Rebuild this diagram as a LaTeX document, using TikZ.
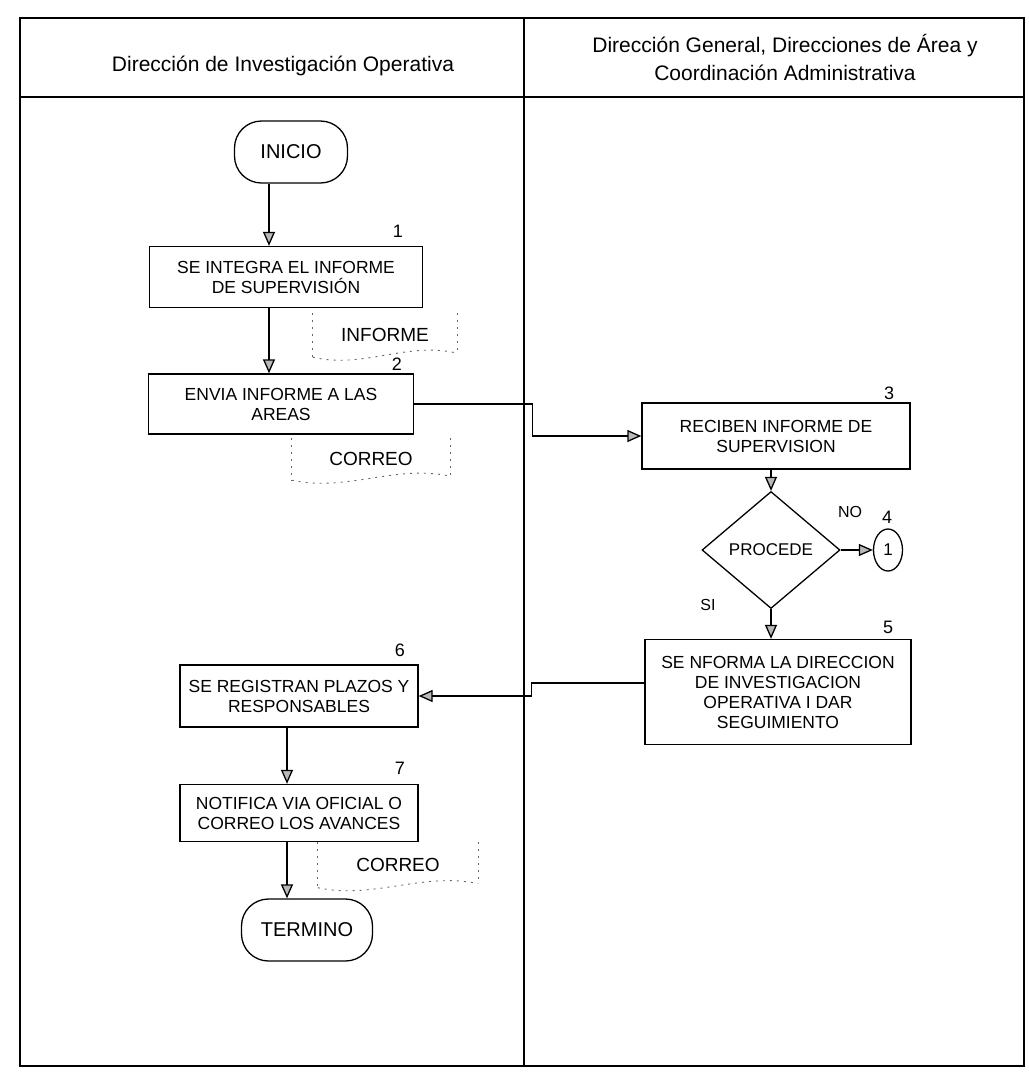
\documentclass[tikz,border=0pt]{standalone}
\usepackage{fontspec}
\setmainfont{Liberation Sans}
\usetikzlibrary{arrows.meta,positioning,shapes.geometric}

\begin{document}
\begin{tikzpicture}[x=1pt, y=-1pt,
  lane/.style={line width=1.2pt},
  terminal/.style={draw, line width=1.3pt, rounded corners=27pt, minimum height=62pt, font=\fontsize{20}{24}\selectfont},
  process/.style={draw, line width=1.3pt, align=center, inner sep=2pt, font=\fontsize{17.5}{20}\selectfont},
  decision/.style={draw, diamond, line width=1.3pt, minimum width=138pt, minimum height=117pt, inner sep=0pt, font=\fontsize{17}{20}\selectfont},
  connector/.style={draw, ellipse, line width=1.3pt, minimum width=29pt, minimum height=42pt, inner sep=0pt, font=\fontsize{17}{20}\selectfont},
  doc/.style={inner sep=0pt, font=\fontsize{19}{22}\selectfont},
  docline/.style={gray!80!black, line width=0.9pt, dash pattern=on 2pt off 5pt},
  num/.style={font=\fontsize{18}{21}\selectfont},
  lbl/.style={font=\fontsize{16}{19}\selectfont},
  head/.style={align=center, font=\fontsize{21}{28}\selectfont},
  arr/.style={-{Triangle[length=14pt, width=12pt, fill=gray!55]}, line width=1.3pt}
]
  \useasboundingbox (0,0) rectangle (1029,1080);

  % swimlanes
  \draw[lane] (20,18) rectangle (1024,1066);
  \draw[lane] (20,97) -- (1024,97);
  \draw[lane] (524,18) -- (524,1066);
  \node[head] (laneA) at (283,66) {Dirección de Investigación Operativa};
  \node[head] (laneB) at (785,57) {Dirección General, Direcciones de Área y\\Coordinación Administrativa};

  % x of the vertical flow lines
  \coordinate (spineA) at (269,0);
  \coordinate (spineB) at (287,0);

  % left lane
  \node[terminal, minimum width=113pt] (inicio) at (291,152) {INICIO};
  \node[process, minimum width=273pt, minimum height=61pt] (integra) at (286,277) {SE INTEGRA EL INFORME\\DE SUPERVISIÓN};
  \node[num] (n1) at (398,231) {1};
  \node[doc, minimum width=144pt, minimum height=44pt] (informe) at (385,335) {INFORME};
  \node[process, minimum width=265pt, minimum height=60pt] (envia) at (281,404) {ENVIA INFORME A LAS\\AREAS};
  \node[num] (n2) at (397,364) {2};
  \node[doc, minimum width=158pt, minimum height=42pt] (correoA) at (371,459) {CORREO};

  % right lane
  \node[process, minimum width=268pt, minimum height=66pt] (reciben) at (776,436) {RECIBEN INFORME DE\\SUPERVISION};
  \node[num] (n3) at (889,393) {3};
  \node[decision] (procede) at (771,550) {PROCEDE};
  \node[connector] (conA) at (888,550) {1};
  \node[lbl] (no) at (850,512) {NO};
  \node[num] (n4) at (887,517) {4};
  \node[lbl] (si) at (708,605) {SI};
  \node[process, minimum width=266pt, minimum height=105pt] (nforma) at (778,692) {SE NFORMA LA DIRECCION\\DE INVESTIGACION\\OPERATIVA I DAR\\SEGUIMIENTO};
  \node[num] (n5) at (888,627) {5};

  % back in the left lane
  \node[process, minimum width=238pt, minimum height=62pt] (registran) at (299,696) {SE REGISTRAN PLAZOS Y\\RESPONSABLES};
  \node[num] (n6) at (400,650) {6};
  \node[process, minimum width=238pt, minimum height=57pt] (notifica) at (299,813) {NOTIFICA VIA OFICIAL O\\CORREO LOS AVANCES};
  \node[num] (n7) at (400,768) {7};
  \node[doc, minimum width=160pt, minimum height=45pt] (correoB) at (398,865) {CORREO};
  \node[terminal, minimum width=131pt] (termino) at (307,930) {TERMINO};

  % document outlines
  \draw[docline] (informe.north west) -- (informe.south west);
  \draw[docline] (informe.north east) -- ([yshift=4pt]informe.south east);
  \draw[docline] (informe.south west) .. controls +(50,12) and +(-50,-12) .. ([yshift=4pt]informe.south east);
  \draw[docline] (correoA.north west) -- (correoA.south west);
  \draw[docline] (correoA.north east) -- ([yshift=4pt]correoA.south east);
  \draw[docline] (correoA.south west) .. controls +(55,12) and +(-55,-12) .. ([yshift=4pt]correoA.south east);
  \draw[docline] (correoB.north west) -- (correoB.south west);
  \draw[docline] (correoB.north east) -- ([yshift=4pt]correoB.south east);
  \draw[docline] (correoB.south west) .. controls +(55,12) and +(-55,-12) .. ([yshift=4pt]correoB.south east);

  % flow
  \draw[arr] (inicio.south -| spineA) -- (integra.north -| spineA);
  \draw[arr] (integra.south -| spineA) -- (envia.north -| spineA);
  \draw[arr] (envia.east) -- ++(118,0) |- (reciben.west);
  \draw[arr] (reciben.south -| procede.north) -- (procede.north);
  \draw[arr] (procede.east) -- (conA.west);
  \draw[arr] (procede.south) -- (procede.south |- nforma.north);
  \draw[arr] ([yshift=9pt]nforma.west) -- ++(-113,0) |- (registran.east);
  \draw[arr] (registran.south -| spineB) -- (notifica.north -| spineB);
  \draw[arr] (notifica.south -| spineB) -- (termino.north -| spineB);
\end{tikzpicture}
\end{document}
